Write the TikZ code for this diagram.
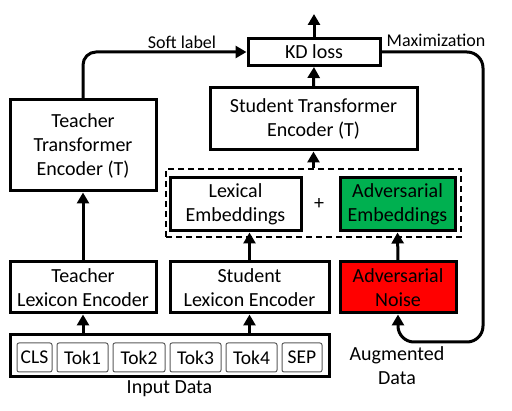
\documentclass[tikz,border=0pt]{standalone}
\usepackage{fontspec}
\setmainfont{Carlito}
\usetikzlibrary{arrows.meta}
\definecolor{advgreen}{HTML}{00B050}
\definecolor{advred}{HTML}{FF0000}
\begin{document}
\begin{tikzpicture}[x=1pt,y=-1pt,
  box/.style={draw, line width=3pt, rectangle, align=center, inner sep=0pt,
    font=\fontsize{20}{24}\selectfont},
  tok/.style={draw=black!65, line width=1pt, rounded corners=2pt, minimum height=29pt,
    inner sep=0pt, font=\fontsize{19.5}{23}\selectfont},
  arr/.style={line width=3pt, -{Triangle[length=11pt,width=12pt]}},
  lbl/.style={font=\fontsize{18}{22}\selectfont, inner sep=0pt},
  txt/.style={font=\fontsize{20}{24}\selectfont, inner sep=0pt, align=center}]
\useasboundingbox (0,0) rectangle (512,411);
% boxes
\node[box, minimum width=132pt, minimum height=27pt] (kd) at (314,52) {KD loss};
\node[box, minimum width=207pt, minimum height=62pt] (ste) at (313.5,119) {Student Transformer\\Encoder (T)};
\node[box, minimum width=146pt, minimum height=91pt] (tte) at (83,145.5) {Teacher\\Transformer\\Encoder (T)};
\node[draw, line width=1.8pt, dash pattern=on 6pt off 4pt, minimum width=295pt, minimum height=68pt, inner sep=0pt] (dash) at (313.5,203) {};
\node[box, minimum width=131pt, minimum height=53pt] (lex) at (235.5,204.5) {Lexical\\Embeddings};
\node[box, fill=advgreen, minimum width=115pt, minimum height=53pt] (adv) at (397.5,204.5) {Adversarial\\Embeddings};
\node[txt] (plus) at (319,204) {+};
\node[box, minimum width=146pt, minimum height=51pt] (tle) at (83,287.5) {Teacher\\Lexicon Encoder};
\node[box, minimum width=159pt, minimum height=51pt] (sle) at (249.5,287.5) {Student\\Lexicon Encoder};
\node[box, fill=advred, minimum width=116pt, minimum height=51pt] (noise) at (398,287.5) {Adversarial\\Noise};
\node[box, minimum width=319pt, minimum height=42pt] (input) at (169.5,356) {};
% tokens
\node[tok, minimum width=35pt] (t0) at (34.5,357.5) {CLS};
\node[tok, minimum width=51pt] (t1) at (82.5,357.5) {Tok1};
\node[tok, minimum width=52pt] (t2) at (139,357.5) {Tok2};
\node[tok, minimum width=51pt] (t3) at (195.5,357.5) {Tok3};
\node[tok, minimum width=51pt] (t4) at (251.5,357.5) {Tok4};
\node[tok, minimum width=40pt] (t5) at (302,357.5) {SEP};
% labels
\node[txt] (indata) at (169.5,389) {Input Data};
\node[txt] (aug) at (397,366) {Augmented\\Data};
\node[lbl] (soft) at (182,42) {Soft label};
\node[lbl] (maxl) at (436,40) {Maximization};
\coordinate (top) at (314,14);
\coordinate (maxc) at (483,342);
% connectors
\draw[arr] (kd.north) -- (top);
\draw[arr] (ste.north) -- (kd.south);
\draw[arr] (dash.north) -- (ste.south);
\draw[arr, rounded corners=13pt] (tte.north) |- (kd.west);
\draw[arr, rounded corners=16pt] (kd.east) -| (maxc) -| (noise.south);
\draw[arr] (tle.north) -- (tte.south);
\draw[arr] (sle.north) -- (sle.north |- lex.south);
\draw[arr] (noise.north) -- (adv.south);
\draw[arr] (input.north -| tle.north) -- (tle.south);
\draw[arr] (input.north -| sle.north) -- (sle.south);
\end{tikzpicture}
\end{document}
